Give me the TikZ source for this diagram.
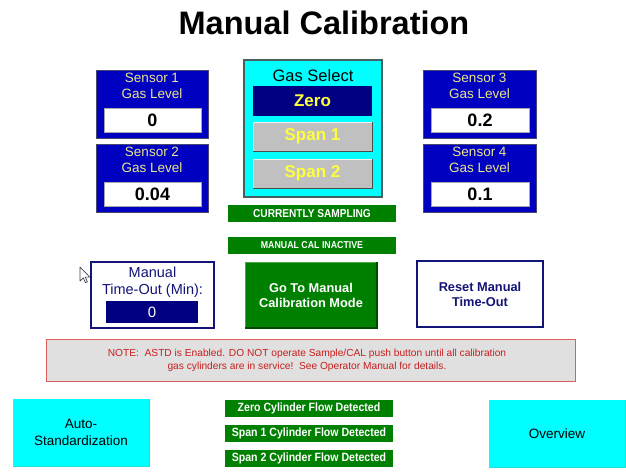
\documentclass[tikz,border=0pt]{standalone}
\usepackage{fontspec}
\setmainfont{Liberation Sans}
\newfontfamily\narrowsans[FakeStretch=0.88]{Liberation Sans}
\newcommand\pxsize[2]{\fontsize{#1}{#2}\selectfont}

\definecolor{sensorblue}{RGB}{0,0,192}
\definecolor{sensorline}{RGB}{70,70,110}
\definecolor{sensortext}{RGB}{236,230,140}
\definecolor{panelcyan}{RGB}{0,255,255}
\definecolor{panelline}{RGB}{70,95,95}
\definecolor{zeronavy}{RGB}{0,0,128}
\definecolor{spangray}{RGB}{192,192,192}
\definecolor{btnyellow}{RGB}{255,255,60}
\definecolor{barGreen}{RGB}{0,128,0}
\definecolor{barDark}{RGB}{0,75,0}
\definecolor{barLight}{RGB}{70,170,70}
\definecolor{navytext}{RGB}{20,20,120}
\definecolor{notefill}{RGB}{224,224,224}
\definecolor{noteline}{RGB}{220,95,95}
\definecolor{notetext}{RGB}{200,30,30}

\begin{document}
\begin{tikzpicture}[x=1pt,y=-1pt,
  every node/.style={inner sep=0pt,outer sep=0pt},
  sensorpanel/.style={draw=sensorline,fill=sensorblue,line width=1pt,minimum width=112,minimum height=68},
  sensorlabel/.style={text=sensortext,align=center,font=\pxsize{13.5}{16}},
  valuebox/.style={draw=gray!70,fill=white,line width=0.6pt,minimum width=97,minimum height=24,font=\pxsize{18}{20}\bfseries},
  gaspanel/.style={draw=panelline,fill=panelcyan,line width=1.6pt},
  gasbtn/.style={minimum width=119,minimum height=29,text=btnyellow,font=\pxsize{17}{20}\bfseries},
  bevellight/.style={draw=white!90!gray,line width=1pt},
  beveldark/.style={draw=gray!60!black,line width=1pt},
  statusbar/.style={fill=barGreen,text=white,minimum width=168,minimum height=17},
  flowbar/.style={statusbar,font=\narrowsans\bfseries\pxsize{12}{14}},
  outlinebtn/.style={draw=navytext,fill=white,line width=1.2pt,minimum width=124,minimum height=66,text=navytext,align=center},
  navbtn/.style={fill=panelcyan,minimum width=136,minimum height=67,align=center,font=\pxsize{13.5}{17}}
]
\useasboundingbox (0,0) rectangle (626,471);

% heading
\node[anchor=base,font=\pxsize{32.5}{36}\bfseries] (title) at (324,34) {Manual Calibration};

% sensor read-outs
\node[sensorpanel] (s1) at (152,104) {};
\node[sensorlabel] (s1t) at (152,86) {Sensor 1\\Gas Level};
\node[valuebox] (s1v) at (152.5,120) {0};

\node[sensorpanel] (s2) at (152,178) {};
\node[sensorlabel] (s2t) at (152,160) {Sensor 2\\Gas Level};
\node[valuebox] (s2v) at (152.5,194.5) {0.04};

\node[sensorpanel,minimum width=113] (s3) at (479.5,104) {};
\node[sensorlabel] (s3t) at (479.5,86) {Sensor 3\\Gas Level};
\node[valuebox,minimum width=98] (s3v) at (480,120) {0.2};

\node[sensorpanel,minimum width=113] (s4) at (479.5,178) {};
\node[sensorlabel] (s4t) at (479.5,160) {Sensor 4\\Gas Level};
\node[valuebox,minimum width=98] (s4v) at (480,194.5) {0.1};

% gas selection panel
\node[gaspanel,minimum width=138,minimum height=137] (gas) at (313,128.5) {};
\node[font=\pxsize{16.5}{18}] (gast) at (313,75.5) {Gas Select};
\node[gasbtn,fill=zeronavy,minimum height=30] (zero) at (312.5,101) {Zero};
\node[gasbtn,fill=spangray] (sp1) at (312.5,136.5) {Span 1};
\node[gasbtn,fill=spangray] (sp2) at (312.5,173.5) {Span 2};
\foreach \b in {sp1,sp2}{
  \draw[bevellight] (\b.south west) |- (\b.north east);
  \draw[beveldark] (\b.south west) -| (\b.north east);
}

% status indicators
\node[statusbar,font=\narrowsans\bfseries\pxsize{11.5}{13}] (sampling) at (312,213.5) {CURRENTLY SAMPLING};
\node[statusbar,font=\narrowsans\bfseries\pxsize{10}{12}] (calstate) at (312,245.5) {MANUAL CAL INACTIVE};

% time-out display
\node[outlinebtn,minimum width=123] (tout) at (152.5,295) {};
\node[text=navytext,align=center,font=\pxsize{14.5}{17}] (toutt) at (152.5,282.5) {Manual\\Time-Out (Min):};
\node[fill=zeronavy,text=white,minimum width=92,minimum height=22,font=\pxsize{15}{17}] (toutv) at (152,312) {0};

% mouse pointer
\draw[fill=white,draw=black!75,line width=0.7pt,line join=round]
  (80,267) -- (80,281) -- (83.3,277.8) -- (85.5,282.6) -- (87.4,281.8)
  -- (85.3,277.1) -- (89.8,277.1) -- cycle;

% manual mode button
\node[fill=barGreen,text=white,minimum width=132,minimum height=66,align=center,font=\pxsize{12.8}{15}\bfseries] (gomode) at (311,295) {Go To Manual\\Calibration Mode};
\draw[draw=barLight,line width=1pt] (gomode.south west) |- (gomode.north east);
\draw[draw=barDark,line width=1.2pt] (gomode.south west) -| (gomode.north east);

% reset button
\node[outlinebtn,minimum width=126,font=\pxsize{12.8}{15}\bfseries] (reset) at (480,294) {Reset Manual\\Time-Out};

% warning note
\node[draw=noteline,fill=notefill,line width=0.9pt,minimum width=529,minimum height=42] (note) at (310.5,360) {};
\node[text=notetext,align=center,font=\pxsize{10.2}{13}] (notet) at (307,360.5) {NOTE:\ \ ASTD is Enabled. DO NOT operate Sample/CAL push button until all calibration\\gas cylinders are in service!\ \ See Operator Manual for details.};

% navigation buttons
\node[navbtn] (autostd) at (81,432.5) {Auto-\\Standardization};
\node[navbtn] (overview) at (557,433.5) {Overview};
\foreach \b in {autostd,overview}{
  \draw[draw=panelcyan!75!gray,line width=0.8pt] (\b.south west) -| (\b.north east);
}

% cylinder flow indicators
\node[flowbar] (fzero) at (309,408.5) {Zero Cylinder Flow Detected};
\node[flowbar] (fspan1) at (309,433.5) {Span 1 Cylinder Flow Detected};
\node[flowbar] (fspan2) at (309,458.5) {Span 2 Cylinder Flow Detected};
\end{tikzpicture}
\end{document}
